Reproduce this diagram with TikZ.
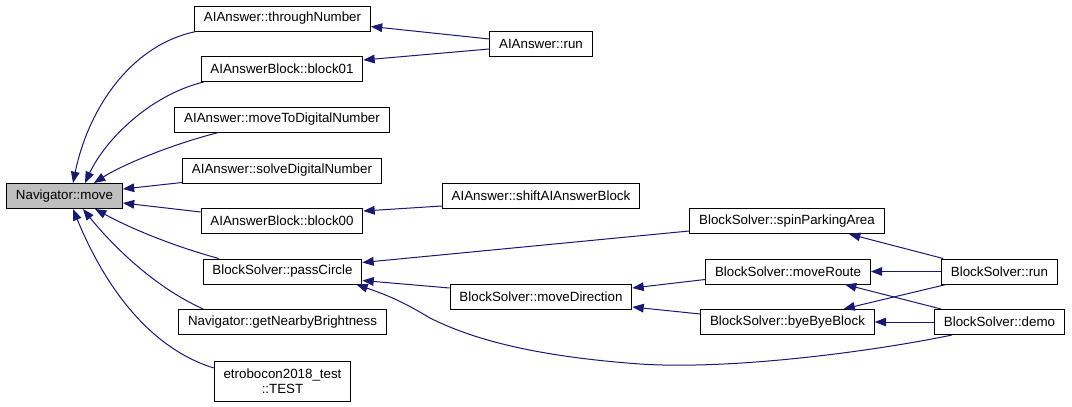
\documentclass[tikz,border=0pt]{standalone}
\usepackage{fontspec}
\setmainfont{Liberation Sans}
\usetikzlibrary{arrows.meta,calc,backgrounds}
\definecolor{edgeblue}{HTML}{191970}
\definecolor{focusgray}{HTML}{BFBFBF}

\begin{document}
\begin{tikzpicture}[
    x=0.75pt,y=-0.75pt,
    font=\fontsize{10}{11.5}\selectfont,
    background rectangle/.style={fill=white,draw=none},
    show background rectangle,
    fn/.style={
        draw=black,fill=white,line width=0.75pt,
        align=center,inner xsep=7pt,inner ysep=2pt,
        minimum height=18.75pt
    },
    focus/.style={fn,fill=focusgray},
    call/.style={draw=edgeblue,line width=0.75pt,
        -{Triangle[length=8.5pt,width=6.5pt]}}
]
% Fixed canvas in pixel units of the reference
\path[use as bounding box] (0,0) rectangle (1072,407);

% Callee in focus
\node[focus] (move) at (64.5,196) {Navigator::move};

% Direct callers
\node[fn] (through) at (282.5,18.5) {AIAnswer::throughNumber};
\node[fn] (blockA) at (282,69) {AIAnswerBlock::block01};
\node[fn] (mtd) at (282,119.5) {AIAnswer::moveToDigitalNumber};
\node[fn] (solve) at (282,170.5) {AIAnswer::solveDigitalNumber};
\node[fn] (blockB) at (282,221) {AIAnswerBlock::block00};
\node[fn] (pass) at (282.5,271.5) {BlockSolver::passCircle};
\node[fn] (near) at (282.5,322) {Navigator::getNearbyBrightness};
\node[fn,minimum height=30pt] (test) at (282.5,381)
    {etrobocon2018\_test\\::TEST};

% Second level
\node[fn] (airun) at (541,44) {AIAnswer::run};
\node[fn] (shift) at (541,195.5) {AIAnswer::shiftAIAnswerBlock};
\node[fn] (mdir) at (541,297) {BlockSolver::moveDirection};

% Third level
\node[fn] (spin) at (787,221) {BlockSolver::spinParkingArea};
\node[fn] (route) at (788,271.5) {BlockSolver::moveRoute};
\node[fn] (bye) at (787.5,322) {BlockSolver::byeByeBlock};

% Entry points
\node[fn] (bsrun) at (999.5,271.5) {BlockSolver::run};
\node[fn] (demo) at (999.5,322) {BlockSolver::demo};

% Calls into Navigator::move
\draw[call] ($(through.south west)+(2,0)$)
    .. controls (130,45) and (88,110) .. ($(move.north)+(8.5,0)$);
\draw[call] ($(blockA.south west)+(3,0)$)
    .. controls (150,95) and (105,140) .. ($(move.north)+(20.5,0)$);
\draw[call] ($(mtd.south west)+(44,0)$)
    .. controls (170,145) and (122,165) .. ($(move.north)+(29.5,0)$);
\draw[call] ($(solve.west)+(0,12)$) -- ($(move.east)+(0,-7)$);
\draw[call] ($(blockB.west)+(0,-9)$) -- ($(move.east)+(0,7)$);
\draw[call] ($(pass.north west)+(16,0)$)
    .. controls (170,245) and (130,228) .. ($(move.south)+(30.5,0)$);
\draw[call] ($(near.north west)+(25,0)$)
    .. controls (150,285) and (108,240) .. ($(move.south)+(18.5,0)$);
\draw[call] ($(test.west)+(0,-13)$)
    .. controls (140,345) and (98,270) .. ($(move.south)+(8.5,0)$);

% Second level calls
\draw[call] ($(airun.west)+(0,-5)$) -- ($(through.east)+(0,8)$);
\draw[call] ($(airun.west)+(0,5)$) -- ($(blockA.east)+(0,-9)$);
\draw[call] ($(shift.west)+(0,10.5)$) -- ($(blockB.east)+(0,-10)$);
\draw[call] ($(spin.west)+(0,10)$) -- ($(pass.east)+(0,-9)$);
\draw[call] ($(mdir.west)+(0,-9)$) -- ($(pass.east)+(0,9)$);

% Third level calls
\draw[call] ($(route.west)+(0,8)$) -- ($(mdir.east)+(0,-9)$);
\draw[call] ($(bye.west)+(0,-8)$) -- ($(mdir.east)+(0,10)$);

% Entry point calls
\draw[call] ($(bsrun.north west)+(2,0)$) -- ($(spin.south)+(62,0)$);
\draw[call] (bsrun.west) -- (route.east);
\draw[call] ($(bsrun.south west)+(5,0)$) -- ($(bye.north)+(56,0)$);
\draw[call] ($(demo.north west)+(7,0)$) -- ($(route.south)+(57,0)$);
\draw[call] (demo.west) -- (bye.east);
\draw[call] ($(demo.south west)+(18,0)$)
    .. controls (870,352) and (730,370) .. (640,364)
    .. controls (530,356) and (470,338) .. (430,318)
    .. controls (405,303) and (390,296) .. ($(pass.south east)+(-6,0)$);
\end{tikzpicture}
\end{document}
